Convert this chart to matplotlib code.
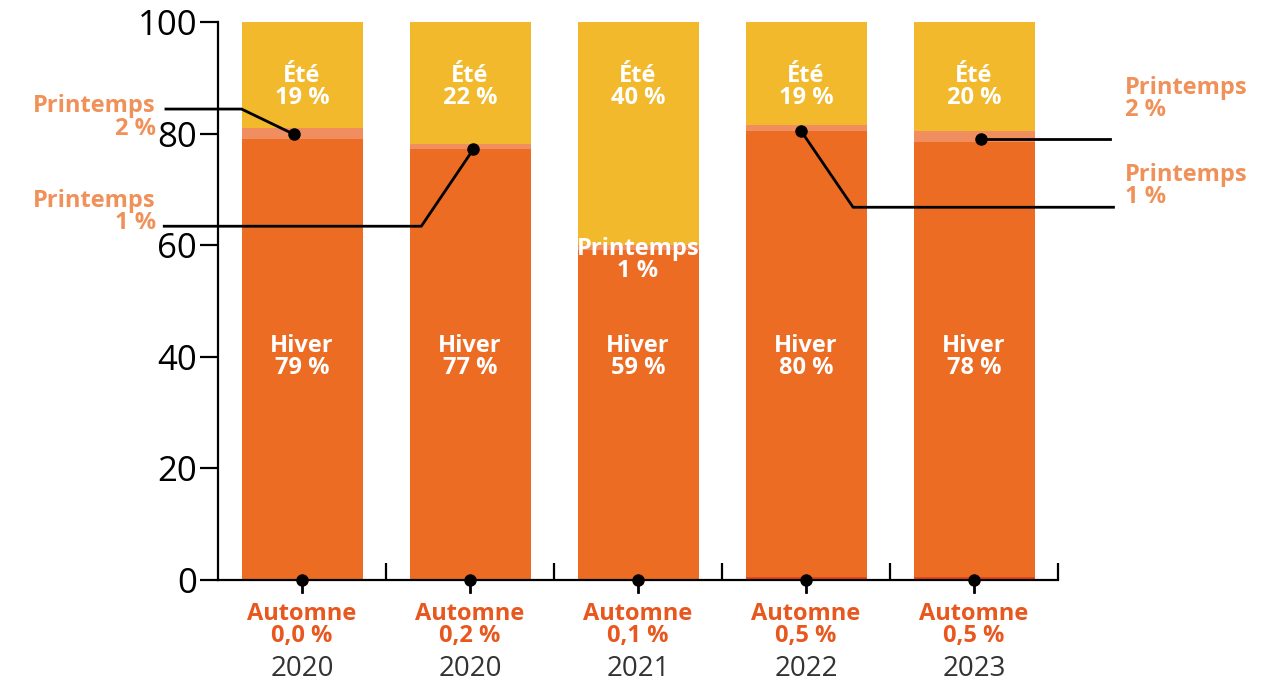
import matplotlib.pyplot as plt
import numpy as np

# Données
years = ["2020", "2020", "2021", "2022", "2023"]
automne = [0.0, 0.2, 0.1, 0.5, 0.5]
hiver = [79, 77, 59, 80, 78]
printemps = [2, 1, 1, 1, 2]
ete = [19, 22, 40, 19, 20]
automne_txt = ["0,0 %", "0,2 %", "0,1 %", "0,5 %", "0,5 %"]

c_automne = "#E2461C"
c_hiver = "#EC6C24"
c_printemps = "#F08E5F"
c_ete = "#F1B92B"
c_lbl_printemps = "#F0915A"
c_lbl_automne = "#E8571E"

plt.rcParams['font.family'] = ['Open Sans', 'DejaVu Sans']

fig = plt.figure(figsize=(12.87, 6.83), dpi=100)
ax = fig.add_axes([0.1694, 0.1508, 0.6527, 0.817])

x = np.arange(len(years))
w = 0.72
a = np.array(automne)
h = np.array(hiver)
p = np.array(printemps)
e = np.array(ete)

ax.bar(x, a, w, color=c_automne)
ax.bar(x, h, w, bottom=a, color=c_hiver)
ax.bar(x, p, w, bottom=a + h, color=c_printemps)
ax.bar(x, e, w, bottom=a + h + p, color=c_ete)

ax.set_xlim(-0.5, 4.5)
ax.set_ylim(0, 100)

fs = 17
# Étiquettes dans les barres
lbl = dict(ha='center', va='center', color='white', fontsize=fs, fontweight='bold', linespacing=0.9)
for i in range(len(years)):
    ax.text(x[i], 40.0, f"Hiver\n{hiver[i]} %", **lbl)
    ax.text(x[i], 88.3, f"Été\n{ete[i]} %", **lbl)
ax.text(x[2], 57.4, f"Printemps\n{printemps[2]} %", **lbl)

# Automne + années sous l'axe
for i in range(len(years)):
    ax.plot(x[i], 0, 'o', color='black', ms=8, clip_on=False, zorder=5)
    ax.plot([x[i], x[i]], [0, -2.2], color='black', lw=2, clip_on=False, zorder=5)
    ax.text(x[i], -8.0, f"Automne\n{automne_txt[i]}", ha='center', va='center',
            color=c_lbl_automne, fontsize=fs, fontweight='bold', linespacing=0.9, clip_on=False)
    ax.text(x[i], -16.0, years[i], ha='center', va='center', color='#333333',
            fontsize=20, clip_on=False)

# Lignes de renvoi Printemps
lk = dict(color='black', lw=2, clip_on=False, zorder=6)
ax.plot([-0.05, -0.36, -0.81], [79.9, 84.4, 84.4], **lk)
ax.plot(-0.05, 79.9, 'o', color='black', ms=8, clip_on=False, zorder=7)
ax.plot([1.02, 0.71, -0.82], [77.2, 63.4, 63.4], **lk)
ax.plot(1.02, 77.2, 'o', color='black', ms=8, clip_on=False, zorder=7)
ax.plot([2.97, 3.28, 4.83], [80.5, 66.8, 66.8], **lk)
ax.plot(2.97, 80.5, 'o', color='black', ms=8, clip_on=False, zorder=7)
ax.plot([4.04, 4.81], [79.0, 79.0], **lk)
ax.plot(4.04, 79.0, 'o', color='black', ms=8, clip_on=False, zorder=7)

pl = dict(color=c_lbl_printemps, fontsize=fs, fontweight='bold', linespacing=0.9, va='center', clip_on=False)
ax.text(-0.87, 82.9, f"Printemps\n{printemps[0]} %", ha='right', **pl)
ax.text(-0.87, 65.9, f"Printemps\n{printemps[1]} %", ha='right', **pl)
ax.text(4.90, 86.2, f"Printemps\n{printemps[4]} %", ha='left', **pl)
ax.text(4.90, 70.6, f"Printemps\n{printemps[3]} %", ha='left', **pl)

# Axes
for s in ['top', 'right']:
    ax.spines[s].set_visible(False)
ax.spines['left'].set_linewidth(1.6)
ax.spines['bottom'].set_linewidth(1.6)
ax.set_yticks([0, 20, 40, 60, 80, 100])
ax.tick_params(axis='y', length=13, width=1.6, labelsize=25, pad=2)
ax.set_xticks([])
ax.set_xticks([0.5, 1.5, 2.5, 3.5, 4.5], minor=True)
ax.tick_params(axis='x', which='minor', direction='in', length=12, width=1.6)

fig.savefig("out.png", dpi=100)
